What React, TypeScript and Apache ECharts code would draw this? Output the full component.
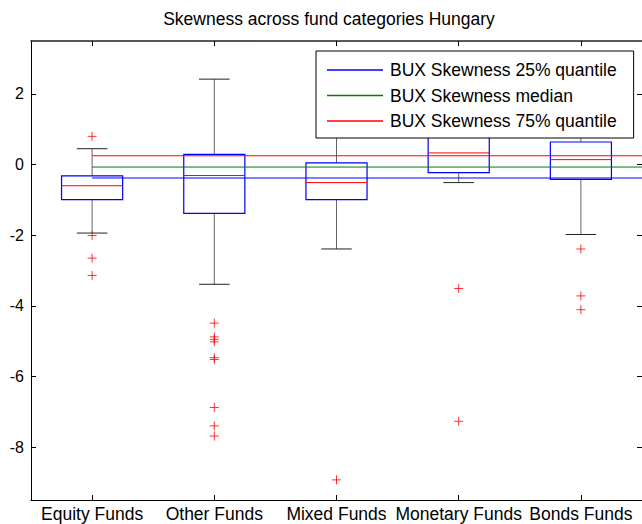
import React, { useEffect, useRef } from 'react';
import * as echarts from 'echarts';

const categories = ['Equity Funds', 'Other Funds', 'Mixed Funds', 'Monetary Funds', 'Bonds Funds'];
// [lower whisker, Q1, median, Q3, upper whisker]
const boxStats = [
  [-1.94, -0.99, -0.6, -0.32, 0.45],
  [-3.39, -1.38, -0.31, 0.29, 2.42],
  [-2.39, -0.99, -0.51, 0.05, 1.6],
  [-0.51, -0.23, 0.33, 1.0, 1.9],
  [-1.98, -0.42, 0.14, 0.64, 1.6],
];
const outliers = [
  [0.8, -2.01, -2.65, -3.14],
  [-4.49, -4.88, -4.95, -5.02, -5.47, -5.52, -6.88, -7.4, -7.69],
  [-8.93],
  [-3.51, -7.27],
  [-2.39, -3.72, -4.11],
];
const buxNames = ['BUX Skewness 25% quantile', 'BUX Skewness median', 'BUX Skewness 75% quantile'];
const buxValues = [-0.38, -0.07, 0.25];
const buxColors = ['#0000ff', '#008000', '#ff0000'];
const yTicks = [-8, -6, -4, -2, 0, 2];
const xTicks = [1, 2, 3, 4, 5];

const FONT = '"Liberation Sans", Arial, Helvetica, sans-serif';

export default function App() {
  const ref = useRef<HTMLDivElement>(null);
  useEffect(() => {
    if (!ref.current) return;
    const chart = echarts.init(ref.current, null, { renderer: 'svg' });

    const boxData = boxStats.map((s, i) => [i + 1, ...s]);
    const outlierData: number[][] = [];
    outliers.forEach((arr, i) => arr.forEach((v) => outlierData.push([i + 1, v])));
    const lastX = categories.length + 1;

    const axisLineStyle = { color: '#000', width: 1 };

    const option: any = {
      animation: false,
      backgroundColor: '#fff',
      graphic: [
        {
          type: 'text',
          x: 329,
          y: 19,
          style: {
            text: 'Skewness across fund categories Hungary',
            font: `17.5px ${FONT}`,
            fill: '#000',
            align: 'center',
            verticalAlign: 'middle',
          },
        },
      ],
      grid: { left: 31, top: 41, right: -2, bottom: 24, containLabel: false },
      xAxis: [
        {
          type: 'value', min: 0.5, max: 5.5, position: 'bottom',
          axisLine: { show: true, onZero: false, lineStyle: axisLineStyle },
          axisTick: { show: true, inside: true, length: 5, customValues: xTicks, lineStyle: axisLineStyle },
          axisLabel: {
            show: true, customValues: xTicks, margin: 5,
            formatter: (v: number) => categories[Math.round(v) - 1] || '',
            fontSize: 17.5, fontFamily: FONT, color: '#000',
          },
          splitLine: { show: false },
        },
        {
          type: 'value', min: 0.5, max: 5.5, position: 'top',
          axisLine: { show: true, onZero: false, lineStyle: { color: '#222', width: 1.5 } },
          axisTick: { show: true, inside: true, length: 5, customValues: xTicks, lineStyle: axisLineStyle },
          axisLabel: { show: false },
          splitLine: { show: false },
        },
      ],
      yAxis: [
        {
          type: 'value', min: -9.5, max: 3.5, position: 'left',
          axisLine: { show: true, onZero: false, lineStyle: axisLineStyle },
          axisTick: { show: true, inside: true, length: 5, customValues: yTicks, lineStyle: axisLineStyle },
          axisLabel: { show: true, customValues: yTicks, margin: 7, fontSize: 16, fontFamily: FONT, color: '#000' },
          splitLine: { show: false },
        },
        {
          type: 'value', min: -9.5, max: 3.5, position: 'right',
          axisLine: { show: true, onZero: false, lineStyle: axisLineStyle },
          axisTick: { show: true, inside: true, length: 5, customValues: yTicks, lineStyle: axisLineStyle },
          axisLabel: { show: false },
          splitLine: { show: false },
        },
      ],
      legend: {
        orient: 'vertical',
        left: 316,
        top: 51,
        icon: 'rect',
        itemWidth: 56,
        itemHeight: 1.4,
        itemGap: 7.5,
        padding: [10, 17, 8, 11],
        borderColor: '#000',
        borderWidth: 1,
        backgroundColor: '#fff',
        textStyle: { fontSize: 17.5, fontFamily: FONT, color: '#000', padding: [0, 0, 0, 2] },
        data: buxNames.map((name, i) => ({
          name,
          itemStyle: { color: buxColors[i], borderWidth: 0, opacity: 1 },
        })),
      },
      series: [
        {
          type: 'custom',
          name: 'boxes',
          xAxisIndex: 0,
          yAxisIndex: 0,
          encode: { x: 0, y: [1, 2, 3, 4, 5] },
          data: boxData,
          z: 2,
          renderItem: (params: any, api: any) => {
            const x = api.value(0);
            const lw = api.value(1);
            const q1 = api.value(2);
            const med = api.value(3);
            const q3 = api.value(4);
            const uw = api.value(5);
            const halfBox = api.size([0.5, 0], [x, 0])[0] / 2;
            const halfCap = api.size([0.25, 0], [x, 0])[0] / 2;
            const pLw = api.coord([x, lw]);
            const pQ1 = api.coord([x, q1]);
            const pMed = api.coord([x, med]);
            const pQ3 = api.coord([x, q3]);
            const pUw = api.coord([x, uw]);
            const cx = pQ1[0];
            return {
              type: 'group',
              children: [
                { type: 'line', shape: { x1: cx, y1: pQ3[1], x2: cx, y2: pUw[1] }, style: { stroke: '#666', lineWidth: 1 } },
                { type: 'line', shape: { x1: cx, y1: pQ1[1], x2: cx, y2: pLw[1] }, style: { stroke: '#666', lineWidth: 1 } },
                { type: 'line', shape: { x1: cx - halfCap, y1: pUw[1], x2: cx + halfCap, y2: pUw[1] }, style: { stroke: '#222', lineWidth: 1 } },
                { type: 'line', shape: { x1: cx - halfCap, y1: pLw[1], x2: cx + halfCap, y2: pLw[1] }, style: { stroke: '#222', lineWidth: 1 } },
                {
                  type: 'rect',
                  shape: { x: cx - halfBox, y: pQ3[1], width: halfBox * 2, height: pQ1[1] - pQ3[1] },
                  style: { fill: 'none', stroke: '#0000ff', lineWidth: 1.2 },
                },
                { type: 'line', shape: { x1: cx - halfBox, y1: pMed[1], x2: cx + halfBox, y2: pMed[1] }, style: { stroke: '#ff0000', lineWidth: 1 } },
              ],
            };
          },
        },
        {
          type: 'scatter',
          name: 'outliers',
          xAxisIndex: 0,
          yAxisIndex: 0,
          data: outlierData,
          symbol: 'path://M0,5L10,5M5,0L5,10',
          symbolSize: 9,
          symbolKeepAspect: true,
          itemStyle: { color: 'none', borderColor: '#ff0000', borderWidth: 1 },
          z: 3,
        },
        ...buxNames.map((name, i) => ({
          type: 'line',
          name,
          xAxisIndex: 0,
          yAxisIndex: 0,
          data: [[1, buxValues[i]], [lastX, buxValues[i]]],
          symbol: 'none',
          clip: true,
          lineStyle: { color: buxColors[i], width: 1 },
          itemStyle: { color: buxColors[i] },
          z: 3,
        })),
      ],
    };

    chart.setOption(option);
    return () => chart.dispose();
  }, []);

  return (
    <div
      ref={ref}
      style={{ position: 'absolute', left: 0, top: 0, width: 642, height: 524, background: '#fff' }}
    />
  );
}
